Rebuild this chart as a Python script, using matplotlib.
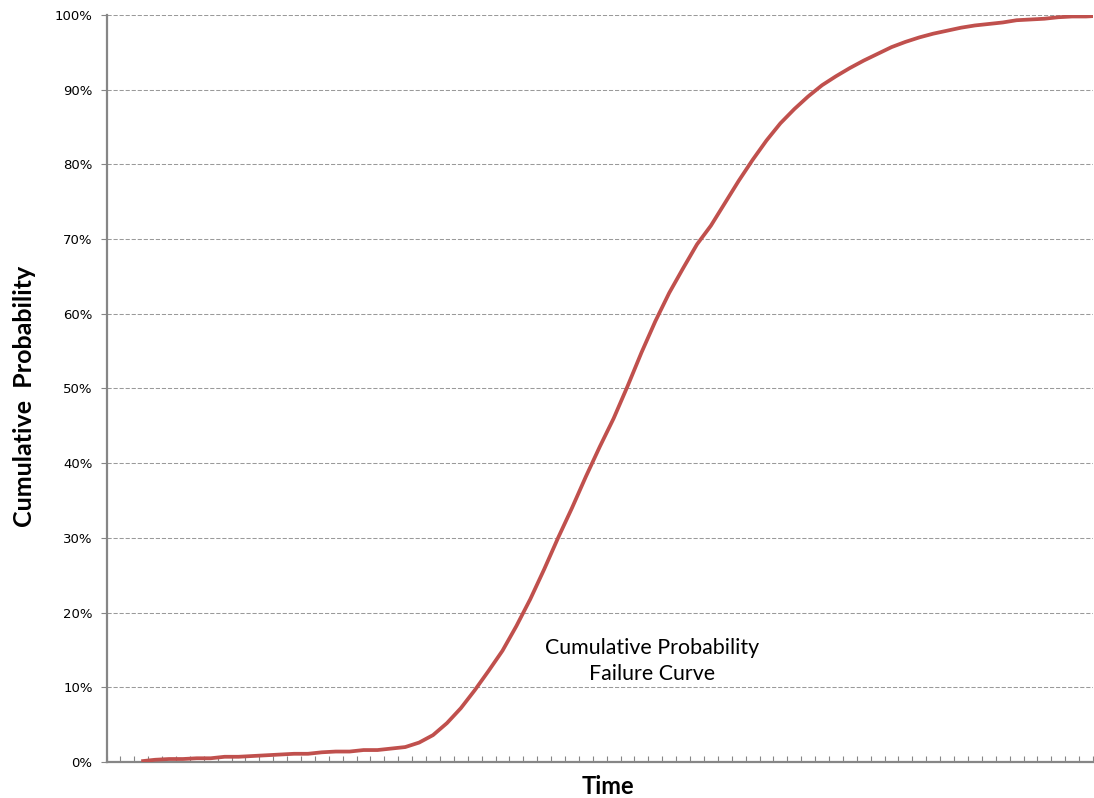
import matplotlib
matplotlib.use("Agg")
import matplotlib.pyplot as plt
from matplotlib.ticker import PercentFormatter, MultipleLocator, FixedLocator

# Cumulative failure probability per time step (fraction of population failed)
time_index = list(range(2, 72))
cum_prob = [
    0.001, 0.003, 0.004, 0.004, 0.005, 0.005, 0.007, 0.007, 0.008, 0.009,
    0.010, 0.011, 0.011, 0.013, 0.014, 0.014, 0.016, 0.016, 0.018, 0.020,
    0.026, 0.036, 0.052, 0.072, 0.096, 0.122, 0.149, 0.182, 0.218, 0.258,
    0.300, 0.340, 0.382, 0.422, 0.460, 0.503, 0.548, 0.590, 0.628, 0.661,
    0.693, 0.718, 0.748, 0.778, 0.806, 0.832, 0.855, 0.874, 0.891, 0.906,
    0.918, 0.929, 0.939, 0.948, 0.957, 0.964, 0.970, 0.975, 0.979, 0.983,
    0.986, 0.988, 0.990, 0.993, 0.994, 0.995, 0.997, 0.998, 0.998, 0.999,
]
n_categories = 71

y_label = "Cumulative  Probability"
x_label = "Time"
note = "Cumulative Probability\nFailure Curve"

W, H = 1094, 798
fig = plt.figure(figsize=(W / 100, H / 100), dpi=100)
ax = fig.add_axes([106.5 / W, 1 - 762 / H, (1093 - 106.5) / W, (762 - 15) / H])

axis_grey = "#868686"
grid_grey = "#9a9a9a"
line_red = "#C0504D"

# points sit at the middle of each category slot
xs = [i + 0.5 for i in time_index]
ax.plot(xs, cum_prob, color=line_red, lw=2.7, solid_joinstyle="round",
        solid_capstyle="butt", zorder=3)

ax.set_xlim(0, n_categories)
ax.set_ylim(0, 1)

ax.yaxis.set_major_locator(MultipleLocator(0.1))
ax.yaxis.set_major_formatter(PercentFormatter(1.0, decimals=0))
ax.xaxis.set_major_locator(FixedLocator(range(0, n_categories + 1)))
ax.set_xticklabels([])

ax.grid(axis="y", color=grid_grey, lw=0.75, linestyle=(0, (4, 1.8)))
ax.set_axisbelow(True)

for side in ("top", "right"):
    ax.spines[side].set_visible(False)
for side in ("left", "bottom"):
    ax.spines[side].set_color(axis_grey)
    ax.spines[side].set_linewidth(1.6)

ax.tick_params(axis="y", direction="out", length=4, width=0.8, color=axis_grey,
               labelsize=9.5, pad=6, labelcolor="#000000")
ax.tick_params(axis="x", direction="in", length=4, width=0.8, color=axis_grey)
for lbl in ax.get_yticklabels():
    lbl.set_fontfamily("DejaVu Sans")

fig.text(25 / W, 1 - 396 / H, y_label, rotation=90, ha="center", va="center",
         fontsize=18, fontweight="bold", family=["Lato", "DejaVu Sans"])
fig.text(608 / W, 1 - 787 / H, x_label, ha="center", va="center",
         fontsize=17, fontweight="bold", family=["Lato", "DejaVu Sans"])
fig.text(652 / W, 1 - 661 / H, note, ha="center", va="center",
         multialignment="center", fontsize=15.4, linespacing=1.42,
         family=["Lato", "DejaVu Sans"])

fig.savefig("out.png", dpi=100)
